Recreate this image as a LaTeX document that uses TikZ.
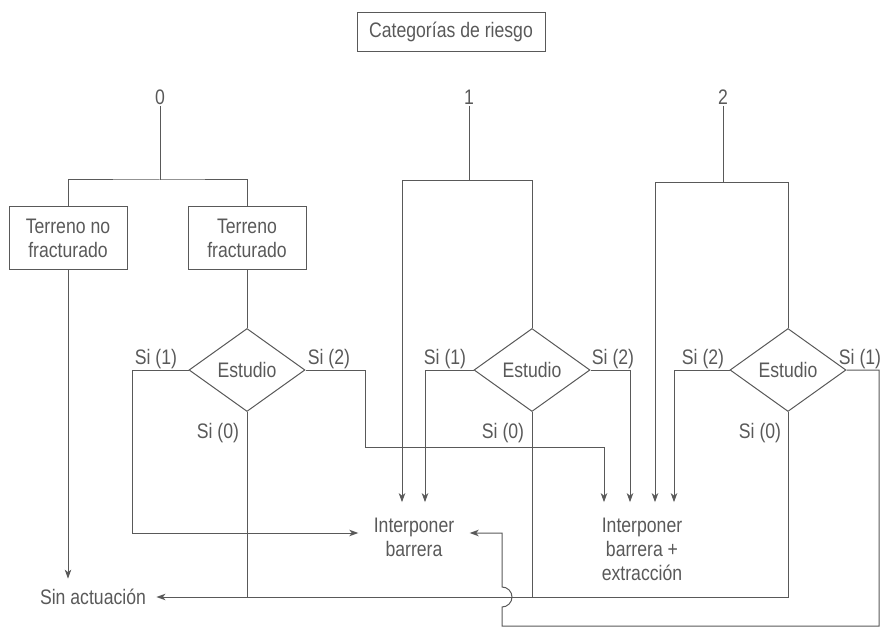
\documentclass[tikz,border=0pt]{standalone}
\usepackage{fontspec}
\setmainfont{Liberation Sans}[FakeStretch=0.84]
\usepackage{tikz}
\usetikzlibrary{shapes.geometric, arrows.meta}

\definecolor{ink}{gray}{0.35}

\begin{document}
\begin{tikzpicture}[x=1pt, y=-1pt, line width=1pt, color=ink,
    font=\fontsize{21}{24}\selectfont,
    box/.style={draw, align=center, minimum width=118pt, minimum height=63pt},
    test/.style={draw, diamond, aspect=1.4, minimum width=116pt, minimum height=83pt, inner sep=0pt},
    lab/.style={inner sep=1pt},
    goal/.style={align=center, inner sep=15pt},
    arr/.style={-{Stealth[length=9pt, width=6.5pt, inset=2.5pt]}}]
  \useasboundingbox (0,0) rectangle (881,628);

  \node[draw, minimum width=188pt, minimum height=39pt] (cat) at (451,32) {Categorías de riesgo};
  \node[lab] (n0) at (160,97) {0};
  \node[lab] (n1) at (469,97) {1};
  \node[lab] (n2) at (723,97) {2};

  \node[box] (tn) at (68,238) {Terreno no\\fracturado};
  \node[box] (tf) at (247,238) {Terreno\\fracturado};

  \node[test] (d0) at (247,370) {Estudio};
  \node[test] (d1) at (532,370) {Estudio};
  \node[test] (d2) at (788,370) {Estudio};

  \node[goal] (ib) at (414,537) {Interponer\\barrera};
  \node[goal] (ibx) at (642,549) {Interponer\\barrera +\\extracción};
  \node[inner sep=10pt] (sa) at (93,597) {Sin actuación};

  % respuestas del estudio
  \node[lab] (s01) at (156,359) {Si (1)};
  \node[lab] (s02) at (329,359) {Si (2)};
  \node[lab] (s00) at (218,433) {Si (0)};
  \node[lab] (s11) at (445,359) {Si (1)};
  \node[lab] (s12) at (613,359) {Si (2)};
  \node[lab] (s10) at (503,433) {Si (0)};
  \node[lab] (s22) at (703,359) {Si (2)};
  \node[lab] (s21) at (860,359) {Si (1)};
  \node[lab] (s20) at (760,433) {Si (0)};

  \coordinate (j0) at (160,180);
  \coordinate (j1) at (469,181);
  \coordinate (j2) at (723,183);
  \coordinate (hop) at (502,597);
  \coordinate (corner) at (879,626);
  \coordinate (ibe) at ([yshift=4pt]ib.east);

  % categoria 0
  \draw (n0) -- (j0);
  \draw (tn.north) |- (j0) -| (tf.north);
  \draw (tf) -- (d0);
  \draw[arr] (tn.south) -- (tn.south |- sa.north);
  \draw[arr] (d0.west) -- ++(-56,0) |- ([yshift=4pt]ib.west);
  \draw[arr] (d0.east) -- ++(60,0) -- ++(0,77) -| ([xshift=-38pt]ibx.north);
  \draw (d0.south) -- (d0.south |- sa.east);

  % categoria 1
  \draw (n1) -- (j1);
  \draw[arr] (j1) -| ([xshift=-12pt]ib.north);
  \draw (j1) -| (d1.north);
  \draw[arr] (d1.west) -| ([xshift=11pt]ib.north);
  \draw[arr] (d1.east) -| ([xshift=-12pt]ibx.north);
  \draw (d1.south) -- (d1.south |- sa.east);

  % categoria 2
  \draw (n2) -- (j2);
  \draw[arr] (j2) -| ([xshift=13pt]ibx.north);
  \draw (j2) -| (d2.north);
  \draw[arr] (d2.west) -| ([xshift=32pt]ibx.north);
  \draw[arr] (d2.south) |- (sa.east);
  \draw[arr] (d2.east) -| (corner) -- (corner -| hop) -- ([yshift=-10pt]hop)
    arc[start angle=-90, end angle=90, radius=10pt] -- (ibe -| hop) -- (ibe);
\end{tikzpicture}
\end{document}
